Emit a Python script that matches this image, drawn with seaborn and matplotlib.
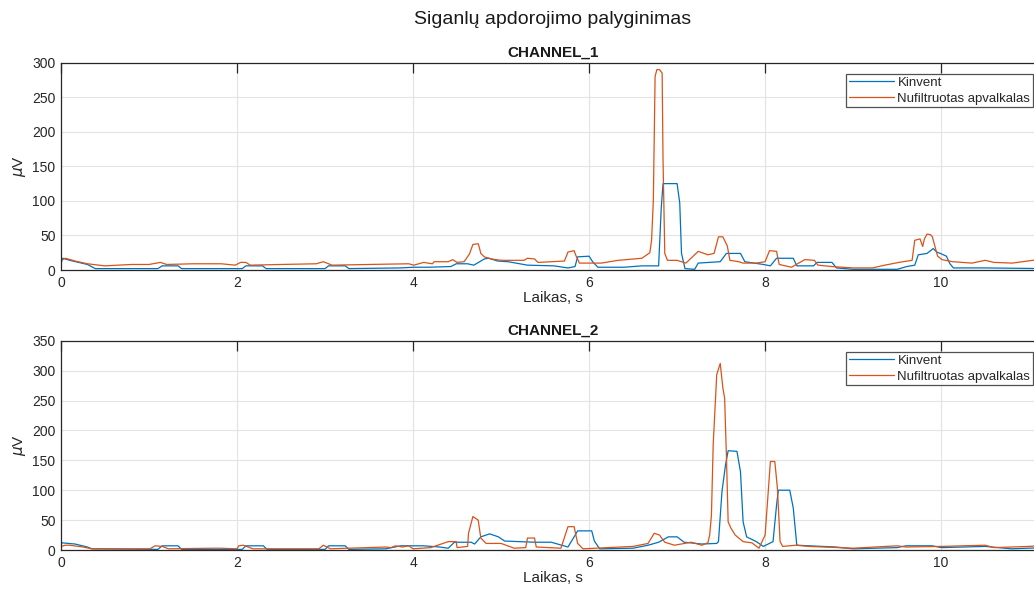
"""Signalų apdorojimo palyginimas: Kinvent vs filtruotas apvalkalas."""

import matplotlib
matplotlib.use("Agg")
import matplotlib.pyplot as plt
import seaborn as sns

# --- CHANNEL_1 ---
ch1_kin_t = [0, 0.02, 0.1, 0.3, 0.39, 1.1, 1.15, 1.33, 1.37, 2.06, 2.1, 2.29, 2.33, 3.0, 3.04,
             3.23, 3.27, 3.86, 4.0, 4.17, 4.43, 4.49, 4.62, 4.69, 4.81, 4.86, 4.96, 5.08, 5.3,
             5.6, 5.76, 5.84, 5.87, 6.0, 6.04, 6.1, 6.4, 6.6, 6.79, 6.82, 6.84, 7.0, 7.03, 7.05,
             7.09, 7.2, 7.24, 7.49, 7.56, 7.72, 7.77, 7.98, 8.06, 8.13, 8.32, 8.36, 8.55, 8.59,
             8.76, 8.81, 9.0, 9.5, 9.61, 9.7, 9.74, 9.84, 9.91, 9.95, 9.99, 10.06, 10.1, 10.14,
             10.5, 11.18]
ch1_kin = [10, 17, 14, 8, 2, 2, 6, 6, 2, 2, 6, 6, 2, 2, 6,
           6, 2, 3, 4, 4, 5, 9, 9, 7, 16, 17, 13, 12, 7,
           6, 3, 5, 19, 20, 12, 4, 4, 6, 6, 90, 125, 125, 97, 24,
           2, 1, 10, 12, 24, 24, 12, 8, 6, 17, 17, 6, 6, 11,
           11, 3, 1, 1, 5, 7, 22, 24, 31, 26, 24, 20, 9, 3,
           3, 2]

ch1_env_t = [0, 0.05, 0.16, 0.3, 0.5, 0.8, 1.0, 1.13, 1.2, 1.5, 1.82, 1.98, 2.04, 2.1, 2.15,
             2.5, 2.9, 2.98, 3.08, 3.5, 3.95, 4.01, 4.12, 4.22, 4.24, 4.4, 4.45, 4.5, 4.58,
             4.64, 4.68, 4.74, 4.75, 4.77, 4.81, 4.89, 5.0, 5.26, 5.3, 5.38, 5.42, 5.72, 5.76,
             5.83, 5.85, 5.89, 6.14, 6.33, 6.6, 6.69, 6.71, 6.73, 6.75, 6.77, 6.8, 6.83, 6.84,
             6.86, 6.89, 7.0, 7.1, 7.24, 7.35, 7.42, 7.47, 7.52, 7.57, 7.6, 7.7, 7.75, 7.9, 8.0,
             8.05, 8.13, 8.16, 8.3, 8.45, 8.56, 8.6, 8.76, 9.0, 9.22, 9.36, 9.52, 9.67, 9.7,
             9.76, 9.79, 9.81, 9.84, 9.88, 9.9, 9.93, 9.96, 10.01, 10.13, 10.35, 10.5, 10.6,
             10.81, 11.04, 11.18]
ch1_env = [14, 17, 13, 9, 6, 8, 8, 11, 8, 9, 9, 7, 11, 11, 7,
           8, 9, 12, 7, 8, 9, 7, 11, 9, 12, 12, 15, 11, 12,
           23, 37, 38, 34, 24, 19, 16, 14, 14, 17, 16, 11, 13, 26,
           28, 21, 10, 10, 14, 17, 25, 43, 101, 280, 290, 290, 285, 160,
           24, 14, 14, 10, 27, 22, 24, 48, 48, 35, 14, 12, 10, 10, 12,
           28, 27, 8, 4, 15, 14, 7, 5, 3, 3, 7, 11, 14, 43,
           45, 34, 45, 52, 51, 48, 34, 20, 15, 12, 10, 14, 11,
           10, 14, 13]

# --- CHANNEL_2 ---
ch2_kin_t = [0, 0.01, 0.16, 0.3, 0.35, 1.1, 1.15, 1.33, 1.37, 2.06, 2.1, 2.3, 2.34, 3.0, 3.04,
             3.23, 3.27, 3.69, 3.86, 4.12, 4.3, 4.4, 4.47, 4.66, 4.7, 4.77, 4.87, 4.97, 5.04,
             5.38, 5.57, 5.76, 5.83, 5.87, 6.03, 6.06, 6.12, 6.5, 6.67, 6.79, 6.9, 7.0, 7.08,
             7.28, 7.45, 7.47, 7.51, 7.55, 7.58, 7.68, 7.72, 7.75, 7.79, 7.9, 7.98, 8.09, 8.13,
             8.15, 8.28, 8.32, 8.36, 8.5, 8.8, 9.0, 9.5, 9.6, 9.9, 10.0, 10.5, 10.8, 11.18]
ch2_kin = [8, 12, 10, 5, 2, 1, 7, 7, 1, 1, 7, 7, 1, 1, 7,
           7, 1, 2, 7, 7, 5, 3, 13, 13, 10, 22, 27, 22, 15,
           13, 13, 5, 22, 32, 32, 15, 2, 3, 8, 13, 22, 22, 13,
           10, 11, 14, 98, 142, 166, 165, 131, 47, 22, 14, 6, 14, 75,
           100, 100, 70, 8, 7, 5, 2, 4, 7, 7, 4, 6, 2, 4]

ch2_env_t = [0, 0.05, 0.1, 0.25, 0.35, 1.01, 1.07, 1.15, 1.22, 1.75, 1.8, 2.0, 2.02, 2.07,
             2.18, 2.93, 2.98, 3.06, 3.69, 3.75, 3.8, 3.88, 3.95, 4.0, 4.2, 4.4, 4.49, 4.5,
             4.62, 4.63, 4.68, 4.74, 4.77, 4.83, 5.0, 5.15, 5.28, 5.3, 5.38, 5.4, 5.68, 5.76,
             5.83, 5.87, 5.93, 6.5, 6.67, 6.74, 6.8, 6.86, 6.97, 7.16, 7.28, 7.35, 7.37, 7.39,
             7.41, 7.45, 7.49, 7.52, 7.54, 7.56, 7.58, 7.61, 7.66, 7.75, 7.85, 7.93, 8.0, 8.06,
             8.11, 8.14, 8.17, 8.2, 8.35, 8.5, 9.0, 9.5, 9.6, 10.0, 10.5, 10.6, 11.0, 11.18]
ch2_env = [6, 8, 8, 5, 2, 2, 7, 6, 2, 3, 3, 2, 7, 8,
           2, 2, 8, 2, 5, 4, 7, 5, 7, 2, 4, 14, 14, 4,
           6, 28, 56, 50, 20, 11, 11, 3, 4, 20, 20, 5, 3, 39,
           39, 11, 2, 6, 11, 28, 25, 13, 8, 13, 8, 12, 25, 58,
           176, 293, 312, 271, 254, 159, 47, 37, 25, 14, 12, 3, 25, 148,
           148, 103, 14, 6, 8, 6, 3, 7, 5, 6, 8, 4, 6, 8]

channels = [
    ("CHANNEL_1", ch1_kin_t, ch1_kin, ch1_env_t, ch1_env, 300),
    ("CHANNEL_2", ch2_kin_t, ch2_kin, ch2_env_t, ch2_env, 350),
]

sns.set_style("white")
plt.rcParams["font.family"] = ["Liberation Sans", "DejaVu Sans"]
plt.rcParams["axes.edgecolor"] = "#262626"

W, H = 1034, 590
fig = plt.figure(figsize=(W / 100, H / 100), dpi=100)
fig.text(553 / W, 1 - 20 / H, "Siganlų apdorojimo palyginimas", ha="center", va="center",
         fontsize=14, color="#1a1a1a")

# axes boxes in pixels: (top, bottom)
boxes = [(62.7, 270), (340.7, 550)]
for (name, kt, kv, et, ev, ymax), (top, bot) in zip(channels, boxes):
    ax = fig.add_axes([61 / W, 1 - bot / H, (1045 - 61) / W, (bot - top) / H])
    sns.lineplot(x=kt, y=kv, ax=ax, color="#0072BD", lw=0.9, label="Kinvent",
                 estimator=None, sort=False)
    sns.lineplot(x=et, y=ev, ax=ax, color="#D95319", lw=0.9, label="Nufiltruotas apvalkalas",
                 estimator=None, sort=False)
    ax.set_xlim(0, 11.18)
    ax.set_ylim(0, ymax)
    ax.set_xticks(range(0, 11, 2))
    ax.set_yticks(range(0, ymax + 1, 50))
    ax.grid(True, color="#e3e3e3", lw=0.8)
    ax.tick_params(direction="in", top=True, length=7, width=0.9, color="#262626",
                   labelsize=10, labelcolor="#262626", pad=4)
    for s in ["left", "bottom", "top"]:
        ax.spines[s].set_linewidth(0.9)
    ax.spines["right"].set_visible(False)
    ax.set_title(name, fontweight="bold", fontsize=11, pad=4, color="#1a1a1a")
    ax.set_xlabel("Laikas, s", fontsize=11, labelpad=1, color="#262626")
    ax.set_ylabel(r"$\mu$V", fontsize=11, labelpad=3, color="#262626")
    leg = ax.legend(loc="upper right", bbox_to_anchor=(1033 / W, 1 - (top + 11) / H),
                    bbox_transform=fig.transFigure, fontsize=9.5, frameon=True,
                    fancybox=False, handlelength=3.4, handletextpad=0.3, labelspacing=0.3,
                    borderpad=0.2, borderaxespad=0)
    leg.get_frame().set_edgecolor("#262626")
    leg.get_frame().set_linewidth(0.9)

plt.savefig("out.png", dpi=100)
plt.close()
